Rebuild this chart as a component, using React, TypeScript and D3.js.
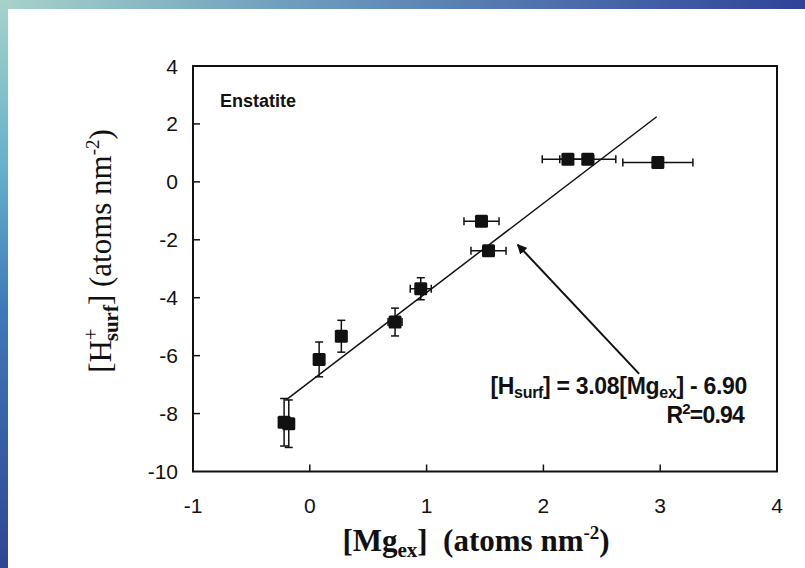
import React, { useEffect, useRef } from 'react';
import * as d3 from 'd3';

// Mg exchanged vs surface H on enstatite
const mgEx = [-0.22, -0.18, 0.08, 0.27, 0.73, 0.95, 1.47, 1.53, 2.21, 2.38, 2.98];
const hSurf = [-8.3, -8.35, -6.13, -5.33, -4.84, -3.69, -1.36, -2.38, 0.78, 0.78, 0.67];
const hErr = [0.82, 0.82, 0.6, 0.55, 0.48, 0.38, 0, 0, 0, 0, 0];
const mgErr = [0, 0, 0, 0, 0.06, 0.09, 0.15, 0.15, 0.22, 0.24, 0.3];

const xTicks = [-1, 0, 1, 2, 3, 4];
const yTicks = [-10, -8, -6, -4, -2, 0, 2, 4];

// fit line [Hsurf] = 3.08[Mgex] - 6.90
const fitSlope = 3.08;
const fitIntercept = -6.9;
const fitRange = [-0.2, 2.97];

// annotation arrow, data units (tail -> head)
const arrowTail = [2.82, -6.63];
const arrowHead = [1.78, -2.17];

const W = 805;
const H = 568;

const App: React.FC = () => {
  const svgRef = useRef<SVGSVGElement>(null);

  useEffect(() => {
    if (!svgRef.current) return;
    const svg = d3.select(svgRef.current);
    svg.selectAll('*').remove();

    const x = d3.scaleLinear().domain([-1, 4]).range([193, 777]);
    const y = d3.scaleLinear().domain([-10, 4]).range([471.5, 66]);

    // bluish frame on the left and top
    const defs = svg.append('defs');
    const gTop = defs.append('linearGradient').attr('id', 'gtop').attr('x1', 0).attr('x2', 1).attr('y1', 0).attr('y2', 0);
    gTop.append('stop').attr('offset', '0%').attr('stop-color', '#a6d3c9');
    gTop.append('stop').attr('offset', '35%').attr('stop-color', '#6f9fbf');
    gTop.append('stop').attr('offset', '100%').attr('stop-color', '#2f4399');
    const gLeft = defs.append('linearGradient').attr('id', 'gleft').attr('x1', 0).attr('x2', 0).attr('y1', 0).attr('y2', 1);
    gLeft.append('stop').attr('offset', '0%').attr('stop-color', '#a6d3c9');
    gLeft.append('stop').attr('offset', '30%').attr('stop-color', '#64b0cc');
    gLeft.append('stop').attr('offset', '55%').attr('stop-color', '#3f78b8');
    gLeft.append('stop').attr('offset', '100%').attr('stop-color', '#2d4790');
    defs.append('marker')
      .attr('id', 'ahead')
      .attr('viewBox', '0 0 10 10')
      .attr('refX', 9)
      .attr('refY', 5)
      .attr('markerWidth', 5)
      .attr('markerHeight', 5)
      .attr('orient', 'auto')
      .append('path')
      .attr('d', 'M0,0 L10,5 L0,10 Z')
      .attr('fill', '#111');

    svg.append('rect').attr('width', W).attr('height', H).attr('fill', '#fff');
    svg.append('rect').attr('x', 0).attr('y', 0).attr('width', W).attr('height', 9).attr('fill', 'url(#gtop)');
    svg.append('rect').attr('x', 0).attr('y', 0).attr('width', 8).attr('height', H).attr('fill', 'url(#gleft)');

    // plot frame
    svg.append('rect')
      .attr('x', x(-1)).attr('y', y(4))
      .attr('width', x(4) - x(-1)).attr('height', y(-10) - y(4))
      .attr('fill', 'none').attr('stroke', '#111').attr('stroke-width', 2);

    // inward ticks
    svg.append('g').selectAll('line')
      .data(xTicks.slice(1, -1))
      .join('line')
      .attr('x1', d => x(d)).attr('x2', d => x(d))
      .attr('y1', y(-10)).attr('y2', y(-10) - 7)
      .attr('stroke', '#111').attr('stroke-width', 1.5);
    svg.append('g').selectAll('line')
      .data(yTicks.slice(1, -1))
      .join('line')
      .attr('x1', x(-1)).attr('x2', x(-1) + 7)
      .attr('y1', d => y(d)).attr('y2', d => y(d))
      .attr('stroke', '#111').attr('stroke-width', 1.5);

    const sans = 'Arial, "Liberation Sans", sans-serif';
    const serif = '"Times New Roman", "Liberation Serif", serif';

    svg.append('g').selectAll('text')
      .data(xTicks)
      .join('text')
      .attr('x', d => x(d)).attr('y', 513)
      .attr('text-anchor', 'middle')
      .attr('font-family', sans).attr('font-size', 21).attr('fill', '#111')
      .text(d => String(d));
    svg.append('g').selectAll('text')
      .data(yTicks)
      .join('text')
      .attr('x', 178).attr('y', d => y(d) + 7.5)
      .attr('text-anchor', 'end')
      .attr('font-family', sans).attr('font-size', 21).attr('fill', '#111')
      .text(d => String(d));

    // axis titles
    const xt = svg.append('text')
      .attr('x', 476).attr('y', 551)
      .attr('text-anchor', 'middle')
      .attr('font-family', serif).attr('font-size', 31).attr('font-weight', 'bold').attr('fill', '#111');
    xt.append('tspan').text('[Mg');
    xt.append('tspan').attr('font-size', 21).attr('dy', 6).text('ex');
    xt.append('tspan').attr('dy', -6).attr('xml:space', 'preserve').text(']\u00a0 (atoms nm');
    xt.append('tspan').attr('font-size', 19).attr('dy', -12).text('-2');
    xt.append('tspan').attr('dy', 12).text(')');

    const yt = svg.append('text')
      .attr('transform', 'translate(111,251) rotate(-90)')
      .attr('text-anchor', 'middle')
      .attr('font-family', serif).attr('font-size', 31).attr('fill', '#111');
    yt.append('tspan').text('[H');
    yt.append('tspan').attr('font-size', 21).attr('dy', -13).text('+');
    yt.append('tspan').attr('font-size', 21).attr('font-weight', 'bold').attr('dx', -13).attr('dy', 20).text('surf');
    yt.append('tspan').attr('dy', -7).text(']\u00a0(atoms nm');
    yt.append('tspan').attr('font-size', 19).attr('dy', -12).text('-2');
    yt.append('tspan').attr('dy', 12).text(')');

    // regression line
    svg.append('line')
      .attr('x1', x(fitRange[0])).attr('y1', y(fitSlope * fitRange[0] + fitIntercept))
      .attr('x2', x(fitRange[1])).attr('y2', y(fitSlope * fitRange[1] + fitIntercept))
      .attr('stroke', '#111').attr('stroke-width', 1.5);

    const pts = mgEx.map((v, i) => ({ mx: v, h: hSurf[i], eh: hErr[i], em: mgErr[i] }));
    const cap = 4;
    const eb = svg.append('g').attr('stroke', '#111').attr('stroke-width', 1.5);
    pts.filter(p => p.eh > 0).forEach(p => {
      const cx = x(p.mx);
      eb.append('line').attr('x1', cx).attr('x2', cx).attr('y1', y(p.h + p.eh)).attr('y2', y(p.h - p.eh));
      eb.append('line').attr('x1', cx - cap).attr('x2', cx + cap).attr('y1', y(p.h + p.eh)).attr('y2', y(p.h + p.eh));
      eb.append('line').attr('x1', cx - cap).attr('x2', cx + cap).attr('y1', y(p.h - p.eh)).attr('y2', y(p.h - p.eh));
    });
    pts.filter(p => p.em > 0).forEach(p => {
      const cy = y(p.h);
      eb.append('line').attr('x1', x(p.mx - p.em)).attr('x2', x(p.mx + p.em)).attr('y1', cy).attr('y2', cy);
      eb.append('line').attr('x1', x(p.mx - p.em)).attr('x2', x(p.mx - p.em)).attr('y1', cy - cap).attr('y2', cy + cap);
      eb.append('line').attr('x1', x(p.mx + p.em)).attr('x2', x(p.mx + p.em)).attr('y1', cy - cap).attr('y2', cy + cap);
    });

    const s = 13;
    svg.append('g').selectAll('rect')
      .data(pts)
      .join('rect')
      .attr('x', d => x(d.mx) - s / 2).attr('y', d => y(d.h) - s / 2)
      .attr('width', s).attr('height', s).attr('rx', 1.5)
      .attr('fill', '#111');

    // arrow
    svg.append('line')
      .attr('x1', x(arrowTail[0])).attr('y1', y(arrowTail[1]))
      .attr('x2', x(arrowHead[0])).attr('y2', y(arrowHead[1]))
      .attr('stroke', '#111').attr('stroke-width', 2)
      .attr('marker-end', 'url(#ahead)');

    // labels
    svg.append('text')
      .attr('x', 220).attr('y', 107)
      .attr('font-family', sans).attr('font-size', 18).attr('font-weight', 'bold').attr('fill', '#111')
      .text('Enstatite');

    const eq = svg.append('text')
      .attr('x', 747).attr('y', 394)
      .attr('text-anchor', 'end')
      .attr('font-family', sans).attr('font-size', 23).attr('font-weight', 'bold').attr('fill', '#111')
      .attr('letter-spacing', -0.3);
    eq.append('tspan').text('[H');
    eq.append('tspan').attr('font-size', 16).attr('dy', 4).text('surf');
    eq.append('tspan').attr('dy', -4).text('] = 3.08[Mg');
    eq.append('tspan').attr('font-size', 16).attr('dy', 4).text('ex');
    eq.append('tspan').attr('dy', -4).text('] - 6.90');

    const r2 = svg.append('text')
      .attr('x', 744).attr('y', 423)
      .attr('text-anchor', 'end')
      .attr('font-family', sans).attr('font-size', 23).attr('font-weight', 'bold').attr('fill', '#111')
      .attr('letter-spacing', -0.8);
    r2.append('tspan').text('R');
    r2.append('tspan').attr('font-size', 15).attr('dy', -9).text('2');
    r2.append('tspan').attr('dy', 9).text('=0.94');
  }, []);

  return (
    <svg
      ref={svgRef}
      width={W}
      height={H}
      viewBox={`0 0 ${W} ${H}`}
      style={{ position: 'absolute', left: 0, top: 0, display: 'block' }}
    />
  );
};

export default App;
